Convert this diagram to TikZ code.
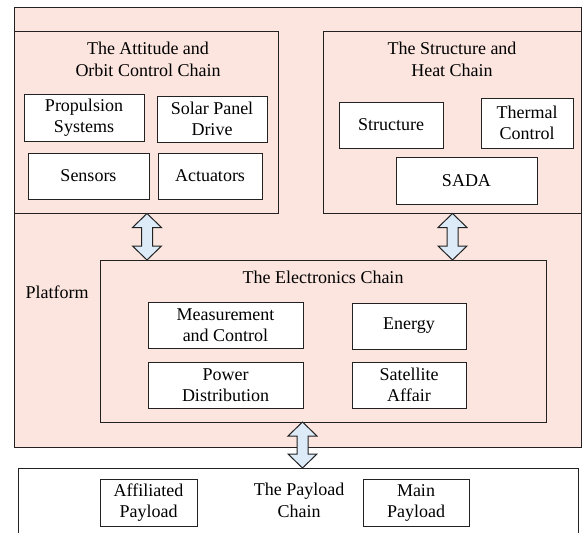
\documentclass[tikz,border=0pt]{standalone}
\usepackage{fontspec}
\setmainfont{LiberationSerif-Regular.ttf}
\definecolor{pinkbg}{HTML}{FBE5DE}
\definecolor{arrowblue}{HTML}{DDEBF8}
\definecolor{edge}{HTML}{222222}
\tikzset{
  chain/.style={draw=edge, line width=1pt, fill=pinkbg, anchor=north west, inner sep=0pt},
  item/.style={draw=edge, line width=1pt, fill=white, align=center, inner sep=0pt, font=\fontsize{18}{21}\selectfont},
  label/.style={align=center, inner sep=0pt, font=\fontsize{18}{22}\selectfont},
  barrow/.style={draw=edge, line width=1pt, fill=arrowblue, line join=miter},
}
\newcommand\dblarr[3]{%
  \draw[barrow] (#1,#2) -- ++(14.5,14) -- ++(-9,0) -- (#1+5.5,#3-14) -- ++(9,0)
    -- (#1,#3) -- ++(-14.5,-14) -- ++(9,0) -- (#1-5.5,#2+14) -- ++(-9,0) -- cycle;}
\begin{document}
\begin{tikzpicture}[x=1pt, y=-1pt]
\useasboundingbox (0,0) rectangle (584,533);
\clip (0,0) rectangle (584,533);
\fill[white] (0,0) rectangle (584,533);
% platform
\node[chain, minimum width=567pt, minimum height=440pt] (platform) at (14,7) {};
\node[label] (platlabel) at (57,292) {Platform};
% attitude chain
\node[chain, minimum width=264pt, minimum height=182pt] (att) at (14,31) {};
\node[label] (atttitle) at (148,59) {The Attitude and\\Orbit Control Chain};
\node[item, minimum width=120pt, minimum height=47pt] (prop) at (84,117.5) {Propulsion\\Systems};
\node[item, minimum width=110pt, minimum height=46pt] (solar) at (212,119) {Solar Panel\\Drive};
\node[item, minimum width=121pt, minimum height=46pt] (sens) at (88.5,176) {Sensors};
\node[item, minimum width=104pt, minimum height=46pt] (act) at (210,176) {Actuators};
% structure chain
\node[chain, minimum width=258pt, minimum height=182pt] (struct) at (323,31) {};
\node[label] (structtitle) at (452,59) {The Structure and\\Heat Chain};
\node[item, minimum width=104pt, minimum height=46pt] (structure) at (391,125) {Structure};
\node[item, minimum width=92pt, minimum height=50pt] (thermal) at (527,123) {Thermal\\Control};
\node[item, minimum width=141pt, minimum height=47pt] (sada) at (466.5,180.5) {SADA};
% electronics chain
\node[chain, minimum width=446pt, minimum height=162pt] (elec) at (100,260) {};
\node[label] (electitle) at (323,277) {The Electronics Chain};
\node[item, minimum width=155pt, minimum height=46pt] (meas) at (225.5,325) {Measurement\\and Control};
\node[item, minimum width=114pt, minimum height=46pt] (energy) at (409,326) {Energy};
\node[item, minimum width=155pt, minimum height=46pt] (power) at (225.5,385) {Power\\Distribution};
\node[item, minimum width=114pt, minimum height=46pt] (sat) at (409,385) {Satellite\\Affair};
% payload chain
\draw[draw=edge, line width=1pt, fill=white] (18,545) -- (18,468) -- (578,468) -- (578,545);
\node[label] (paytitle) at (299,500) {The Payload\\Chain};
\node[item, minimum width=97pt, minimum height=47pt] (affil) at (148.5,502.5) {Affiliated\\Payload};
\node[item, minimum width=106pt, minimum height=47pt] (mainp) at (416,502.5) {Main\\Payload};
% block arrows
\dblarr{147}{213.5}{260}
\dblarr{452.5}{213.5}{260}
\dblarr{302.5}{422}{468}
\end{tikzpicture}
\end{document}
